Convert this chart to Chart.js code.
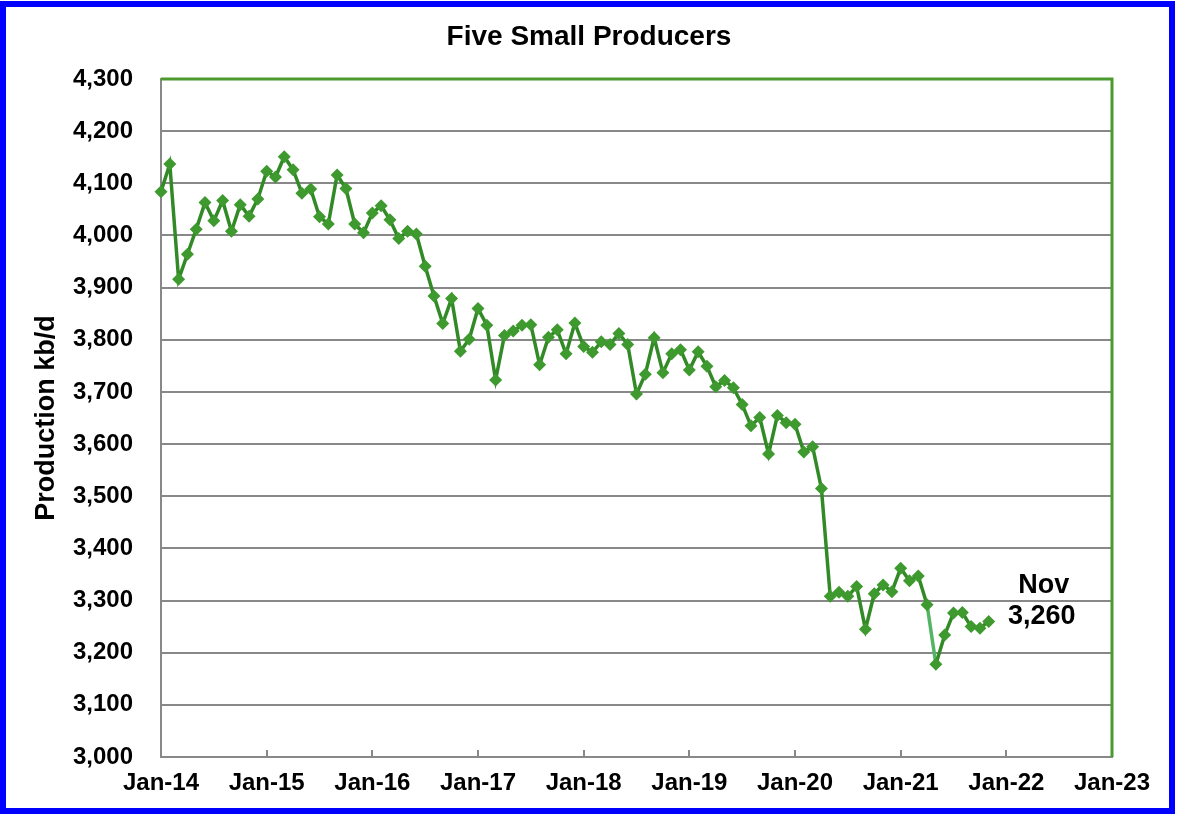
<!DOCTYPE html>
<html>
<head>
<meta charset="utf-8">
<title>Five Small Producers</title>
<script src="https://cdn.jsdelivr.net/npm/chart.js@4.4.1/dist/chart.umd.min.js"></script>
<style>
    html, body { margin: 0; padding: 0; background: #ffffff; }
    #wrap { position: relative; width: 1178px; height: 816px; }
    #grafico { position: absolute; left: 0; top: 0; }
    #moldura {
        position: absolute; left: 0; top: 1px; width: 1175px; height: 813px;
        box-sizing: border-box; border: 6px solid #0000ff; pointer-events: none;
    }
</style>
</head>
<body>
<div id="wrap">
    <canvas id="grafico" width="1178" height="816"></canvas>
    <div id="moldura"></div>
</div>
<script>
// monthly production, kb/d, starting Jan 2014
const startYear = 2014;
const production = [
    4084, 4137, 3916, 3964, 4012, 4063, 4028, 4067, 4008, 4059, 4037, 4070, // 2014
    4123, 4112, 4151, 4126, 4081, 4089, 4036, 4022, 4116, 4090, 4022, 4005, // 2015
    4043, 4057, 4030, 3994, 4008, 4003, 3941, 3884, 3831, 3879, 3778, 3801, // 2016
    3860, 3828, 3723, 3808, 3817, 3828, 3829, 3752, 3805, 3819, 3773, 3832, // 2017
    3787, 3776, 3796, 3791, 3812, 3791, 3696, 3734, 3804, 3737, 3773, 3781, // 2018
    3742, 3777, 3749, 3710, 3722, 3708, 3676, 3635, 3651, 3581, 3655, 3641, // 2019
    3638, 3585, 3595, 3515, 3308, 3316, 3308, 3327, 3245, 3313, 3330, 3317, // 2020
    3362, 3338, 3347, 3292, 3178, 3234, 3276, 3277, 3250, 3247, 3260        // 2021
];
const xTickLabels = ['Jan-14', 'Jan-15', 'Jan-16', 'Jan-17', 'Jan-18', 'Jan-19', 'Jan-20', 'Jan-21', 'Jan-22', 'Jan-23'];
const monthNames = ['Jan', 'Feb', 'Mar', 'Apr', 'May', 'Jun', 'Jul', 'Aug', 'Sep', 'Oct', 'Nov', 'Dec'];
const yMin = 3000, yMax = 4300, yStep = 100;

const lightSegment = 87; // Apr-21 -> May-21 drawn lighter

const pontos = production.map((v, i) => ({ x: i, y: v }));
const fonte = 'Liberation Sans, Arial, Helvetica, sans-serif';

// green frame, inward year ticks, last value label
const extras = {
    id: 'extras',
    afterDraw(chart) {
        const ctx = chart.ctx;
        const a = chart.chartArea;
        const xs = chart.scales.x;
        const ys = chart.scales.y;
        ctx.save();
        ctx.strokeStyle = '#888888';
        ctx.lineWidth = 2;
        xs.ticks.forEach(t => {
            const px = Math.round(xs.getPixelForValue(t.value));
            ctx.beginPath();
            ctx.moveTo(px, a.bottom);
            ctx.lineTo(px, a.bottom - 7);
            ctx.stroke();
        });
        ctx.strokeStyle = '#4a9a2e';
        ctx.lineWidth = 3;
        ctx.beginPath();
        ctx.moveTo(a.left, a.top);
        ctx.lineTo(a.right, a.top);
        ctx.lineTo(a.right, a.bottom);
        ctx.stroke();

        const last = production.length - 1;
        const lx = xs.getPixelForValue(last) + 55;
        const ly = ys.getPixelForValue(production[last]);
        ctx.fillStyle = '#000000';
        ctx.font = 'bold 27px ' + fonte;
        ctx.textAlign = 'center';
        ctx.textBaseline = 'middle';
        ctx.fillText(monthNames[last % 12], lx, ly - 36);
        ctx.fillText(production[last].toLocaleString('en-US'), lx - 2, ly - 5);
        ctx.restore();
    }
};

const ctxGrafico = document.getElementById('grafico');

new Chart(ctxGrafico, {
    type: 'line',
    data: {
        datasets: [{
            label: 'Five Small Producers',
            data: pontos,
            clip: false,
            borderColor: '#328a26',
            borderWidth: 3.5,
            pointStyle: 'rectRot',
            pointRadius: 6.5,
            pointBackgroundColor: '#3e9a2e',
            pointBorderColor: '#3e9a2e',
            pointBorderWidth: 0,
            tension: 0,
            segment: {
                borderColor: c => c.p0DataIndex === lightSegment ? '#52b464' : undefined
            }
        }]
    },
    options: {
        responsive: false,
        animation: false,
        events: [],
        layout: { padding: 0 },
        plugins: {
            legend: { display: false },
            tooltip: { enabled: false },
            title: {
                display: true,
                text: 'Five Small Producers',
                color: '#000000',
                font: { family: fonte, size: 28, weight: 'bold', lineHeight: 1.2 },
                padding: { top: 20, bottom: 25.4 }
            }
        },
        scales: {
            x: {
                type: 'linear',
                min: 0,
                max: (xTickLabels.length - 1) * 12,
                afterBuildTicks: s => {
                    s.ticks = xTickLabels.map((l, i) => ({ value: i * 12 }));
                },
                afterFit: s => { s.height = 59; },
                grid: { display: false, drawTicks: false },
                border: { display: true, color: '#888888', width: 2 },
                ticks: {
                    padding: 12,
                    color: '#000000',
                    autoSkip: false,
                    maxRotation: 0,
                    font: { family: fonte, size: 24, weight: 'bold', lineHeight: 1.2 },
                    callback: (v, i) => xTickLabels[i]
                }
            },
            y: {
                min: yMin,
                max: yMax,
                afterFit: s => { s.width = 161; },
                grid: { color: '#888888', lineWidth: 2, drawTicks: false },
                border: { display: true, color: '#888888', width: 2 },
                ticks: {
                    stepSize: yStep,
                    padding: 28,
                    color: '#000000',
                    font: { family: fonte, size: 24, weight: 'bold' },
                    callback: v => v.toLocaleString('en-US')
                },
                title: {
                    display: true,
                    text: 'Production kb/d',
                    color: '#000000',
                    font: { family: fonte, size: 27, weight: 'bold', lineHeight: 1.2 },
                    padding: { top: 30, bottom: 0 }
                }
            },
            direita: {
                position: 'right',
                display: true,
                afterFit: s => { s.width = 66; },
                grid: { display: false, drawTicks: false },
                border: { display: false },
                ticks: { display: false }
            }
        }
    },
    plugins: [extras]
});
</script>
</body>
</html>
